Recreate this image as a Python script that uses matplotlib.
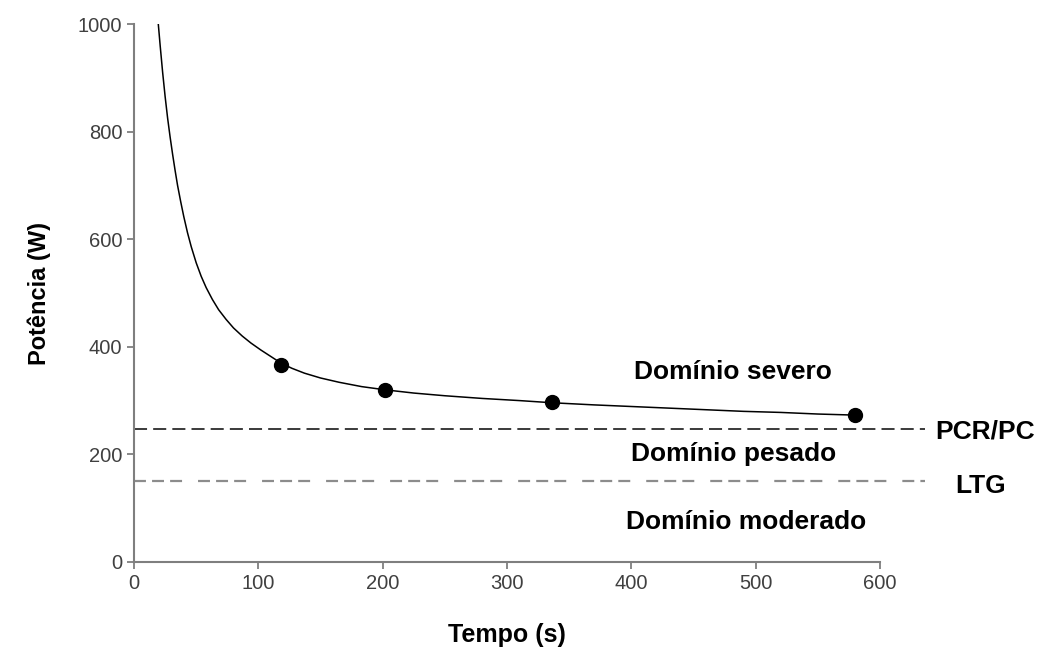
import matplotlib
matplotlib.use("Agg")
import matplotlib.pyplot as plt

plt.rcParams['font.family'] = ['Liberation Sans', 'DejaVu Sans']
plt.rcParams['lines.scale_dashes'] = False

# testes (tempo ate exaustao e potencia)
tempo = [118, 202, 336, 580]
potencia = [366, 319, 297, 273]

# curva potencia-tempo
curva_t = [19.5, 21, 23, 25, 27, 29, 31, 33, 35, 37.5, 40, 43, 46, 50, 54, 58,
           63, 68, 74, 80, 87, 94, 102, 110, 118, 127, 137, 150, 165, 183, 202,
           225, 250, 280, 310, 336, 370, 400, 430, 460, 490, 520, 550, 580]
curva_p = [1000, 960, 910, 865, 825, 790, 758, 728, 700, 670, 642, 612, 586, 556,
           531, 510, 488, 469, 451, 435, 420, 407, 394, 382, 370, 360, 351, 342,
           334, 326, 320, 314, 309, 304, 300, 296, 292, 289, 286, 283, 280, 278,
           275, 273]

# limiares
pcr = 248
ltg = 150
lim_x = [0, 636]

dominios = ["Domínio severo", "Domínio pesado", "Domínio moderado"]
dom_x = [482, 482, 492]
dom_y = [354, 200, 75]

fig = plt.figure(figsize=(10.44, 6.53), dpi=100)
ax = fig.add_axes([0.1284, 0.1394, 0.843 - 0.1284, 0.9632 - 0.1394])

ax.plot(curva_t, curva_p, color='black', lw=1.1)
ax.plot(tempo, potencia, 'o', color='black', ms=10)

l1, = ax.plot(lim_x, [pcr, pcr], color='#3a3a3a', lw=1.4, clip_on=False)
l1.set_dashes([9.4, 4.4])
l2, = ax.plot(lim_x, [ltg, ltg], color='#8c8c8c', lw=1.6, clip_on=False)
l2.set_dashes([8.6, 4.4, 8.6, 4.4, 8.6, 11.5])

for i in range(len(dominios)):
    ax.text(dom_x[i], dom_y[i], dominios[i], ha='center', va='center',
            fontsize=19, fontweight='bold')
ax.text(644, pcr - 6, "PCR/PC", ha='left', va='center', fontsize=19,
        fontweight='bold', clip_on=False)
ax.text(681, ltg - 9, "LTG", ha='center', va='center', fontsize=19,
        fontweight='bold', clip_on=False)

ax.set_xlim(0, 600)
ax.set_ylim(0, 1000)
ax.set_xticks(range(0, 601, 100))
ax.set_yticks(range(0, 1001, 200))
for s in ['top', 'right']:
    ax.spines[s].set_visible(False)
for s in ['left', 'bottom']:
    ax.spines[s].set_color('#7f7f7f')
    ax.spines[s].set_linewidth(1.5)
ax.tick_params(colors='#7f7f7f', width=1.3, length=5, labelsize=14.5,
               labelcolor='#404040')
ax.set_xlabel("Tempo (s)", fontsize=18, fontweight='bold', labelpad=22)
ax.set_ylabel("Potência (W)", fontsize=17, fontweight='bold', labelpad=19)

fig.savefig("out.png", dpi=100)
